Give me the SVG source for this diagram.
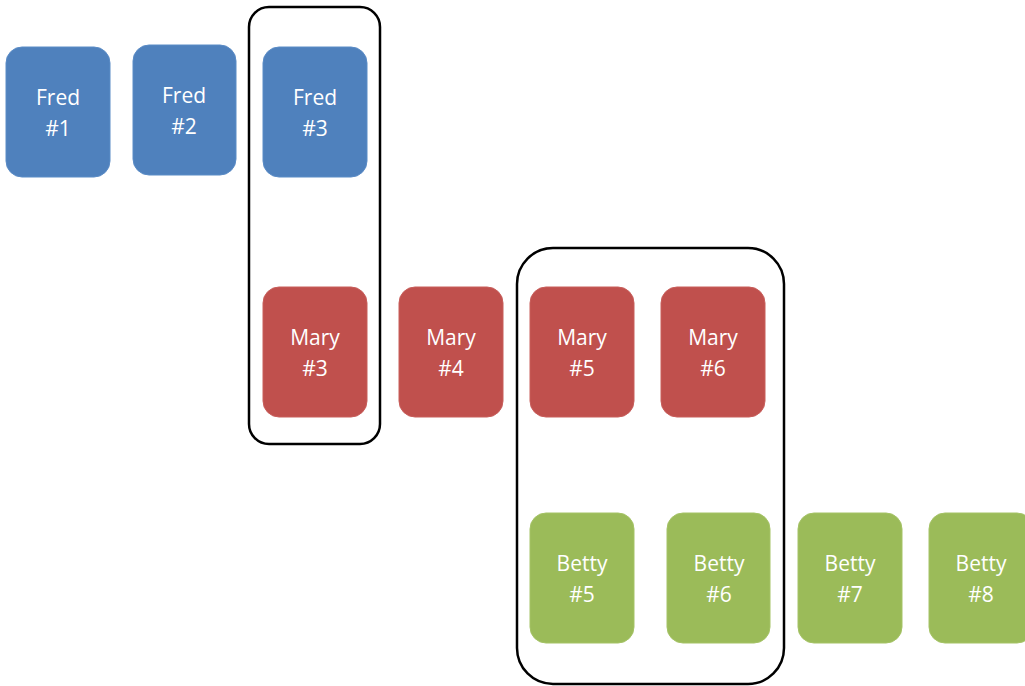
<svg xmlns="http://www.w3.org/2000/svg" width="1025" height="686" viewBox="0 0 1025 686">
<style>
.n rect{stroke-width:1}
.fred rect{fill:#4F81BD;stroke:#5B8CC6}
.mary rect{fill:#C0504D;stroke:#C85E5B}
.betty rect{fill:#9BBB59;stroke:#A5C366}
text{font-family:"Open Sans","Liberation Sans",sans-serif;font-size:21px;fill:#fff;text-anchor:middle}
.grp{fill:none;stroke:#000;stroke-width:2.5}
</style>
<rect width="1025" height="686" fill="#fff"/>
<g id="groups">
<rect class="grp" x="249" y="7" width="131" height="437" rx="20"/>
<rect class="grp" x="517" y="248" width="267" height="436" rx="36"/>
</g>
<g id="fred1" class="n fred"><rect x="6" y="47" width="104" height="130" rx="16"/><text x="58" y="105">Fred</text><text x="58" y="136">#1</text></g>
<g id="fred2" class="n fred"><rect x="133" y="45" width="103" height="130" rx="16"/><text x="184" y="103">Fred</text><text x="184" y="134">#2</text></g>
<g id="fred3" class="n fred"><rect x="263" y="47" width="104" height="130" rx="16"/><text x="315" y="105">Fred</text><text x="315" y="136">#3</text></g>
<g id="mary3" class="n mary"><rect x="263" y="287" width="104" height="130" rx="16"/><text x="315" y="345">Mary</text><text x="315" y="376">#3</text></g>
<g id="mary4" class="n mary"><rect x="399" y="287" width="104" height="130" rx="16"/><text x="451" y="345">Mary</text><text x="451" y="376">#4</text></g>
<g id="mary5" class="n mary"><rect x="530" y="287" width="104" height="130" rx="16"/><text x="582" y="345">Mary</text><text x="582" y="376">#5</text></g>
<g id="mary6" class="n mary"><rect x="661" y="287" width="104" height="130" rx="16"/><text x="713" y="345">Mary</text><text x="713" y="376">#6</text></g>
<g id="betty5" class="n betty"><rect x="530" y="513" width="104" height="130" rx="16"/><text x="582" y="571">Betty</text><text x="582" y="602">#5</text></g>
<g id="betty6" class="n betty"><rect x="667" y="513" width="103" height="130" rx="16"/><text x="719" y="571">Betty</text><text x="719" y="602">#6</text></g>
<g id="betty7" class="n betty"><rect x="798" y="513" width="104" height="130" rx="16"/><text x="850" y="571">Betty</text><text x="850" y="602">#7</text></g>
<g id="betty8" class="n betty"><rect x="929" y="513" width="104" height="130" rx="16"/><text x="981" y="571">Betty</text><text x="981" y="602">#8</text></g>
</svg>
